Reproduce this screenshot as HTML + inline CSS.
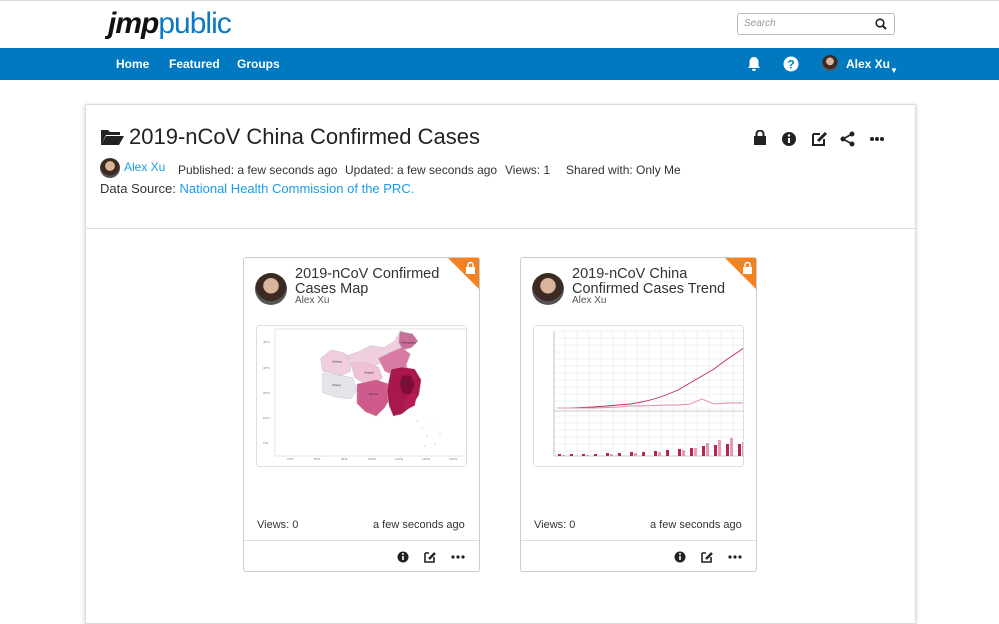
<!DOCTYPE html>
<html><head><meta charset="utf-8"><style>
*{box-sizing:border-box;margin:0;padding:0}
body{width:999px;height:616px;overflow:hidden;background:#fff;font-family:"Liberation Sans",Arial,sans-serif;position:relative;color:#333}
.a{position:absolute}
.nav{left:0;top:48px;width:999px;height:32px;background:#0079c1}
.nav span{position:absolute;top:9px;color:#fff;font-size:12px;font-weight:bold}
.panel{left:85px;top:104px;width:831px;height:520px;border:1px solid #ddd;box-shadow:0 1px 4px rgba(0,0,0,.2);background:#fff}
.card{width:237px;height:315px;border:1px solid #ccc;border-radius:3px;background:#fff}
.av{width:32px;height:32px;border-radius:50%;background:radial-gradient(circle at 50% 40%,#d9b49a 0 30%,#3a2a22 32% 60%,#555 62%)}
.ttl{font-size:14.5px;line-height:15px;color:#333}
.sub{font-size:10px;color:#555}
.frame{border:1px solid #ddd;border-radius:3px;background:#fff;overflow:hidden}
.foot{font-size:11px;color:#333}
.m{font-size:12px;color:#333}
</style></head><body>
<div class="a" style="left:0;top:0;width:999px;height:1px;background:#ddd"></div>
<div class="a" style="left:108px;top:7px;font-size:30px;letter-spacing:-1px"><span style="font-style:italic;font-weight:bold;color:#111">jmp</span><span style="color:#0a79c8">public</span></div>
<div class="a" style="left:737px;top:13px;width:158px;height:22px;border:1px solid #bbb;border-radius:3px;font-size:10px;font-style:italic;color:#999;padding:4px 6px">Search<svg class="a" style="right:7px;top:4px" width="12" height="12"><circle cx="5" cy="5" r="3.8" stroke="#222" stroke-width="1.6" fill="none"/><path d="M8 8l3 3" stroke="#222" stroke-width="2"/></svg></div>
<div class="a nav">
<span style="left:116px">Home</span><span style="left:169px">Featured</span><span style="left:237px">Groups</span>
<svg class="a" style="left:746px;top:8px" width="16" height="16" viewBox="0 0 16 16"><path d="M8 1c-3 0-4.5 2.5-4.5 5v4L2 12h12l-1.5-2V6C12.5 3.5 11 1 8 1z M6 13a2 2 0 0 0 4 0z" fill="#fff"/></svg>
<svg class="a" style="left:783px;top:8px" width="16" height="16"><circle cx="8" cy="8" r="7.5" fill="#fff"/><text x="8" y="12.5" text-anchor="middle" font-size="12" font-weight="bold" fill="#0079c1" font-family="Liberation Sans">?</text></svg>
<div class="a av" style="left:822px;top:7px;width:16px;height:16px"></div>
<span style="left:846px">Alex Xu <span style="font-size:8px">▼</span></span>
</div>
<div class="a panel"></div>
<svg class="a" style="left:100px;top:128px" width="25" height="18"><path d="M1 2h7l2 2h10v3H6L1 17z" fill="#222"/><path d="M6 8h18l-5 9H1z" fill="#222"/></svg>
<div class="a" style="left:129px;top:124px;font-size:22px;color:#222">2019-nCoV China Confirmed Cases</div>
<svg class="a" style="left:753px;top:130px" width="140" height="18">
<rect x="1" y="6" width="12" height="9" fill="#222"/><path d="M3.5 6V4a3.5 3.5 0 0 1 7 0v2" stroke="#222" stroke-width="2" fill="none"/>
<circle cx="36" cy="9" r="7" fill="#222"/><rect x="35" y="8" width="2" height="5" fill="#fff"/><circle cx="36" cy="5.5" r="1.2" fill="#fff"/>
<path d="M60 4h7M60 4v11h11v-6" stroke="#222" stroke-width="2" fill="none"/><path d="M65 11l8-8" stroke="#222" stroke-width="3"/>
<circle cx="90" cy="9" r="2.5" fill="#222"/><circle cx="99" cy="4" r="2.5" fill="#222"/><circle cx="99" cy="14" r="2.5" fill="#222"/><path d="M90 9l9-5M90 9l9 5" stroke="#222" stroke-width="1.6"/>
<circle cx="119" cy="9" r="2" fill="#222"/><circle cx="124" cy="9" r="2" fill="#222"/><circle cx="129" cy="9" r="2" fill="#222"/>
</svg>
<div class="a av" style="left:100px;top:158px;width:20px;height:20px"></div>
<div class="a" style="left:124px;top:160px;font-size:12px;color:#1a9be8">Alex Xu</div>
<div class="a m" style="left:178px;top:163px">Published: a few seconds ago</div>
<div class="a m" style="left:345px;top:163px">Updated: a few seconds ago</div>
<div class="a m" style="left:505px;top:163px">Views: 1</div>
<div class="a m" style="left:566px;top:163px">Shared with: Only Me</div>
<div class="a" style="left:100px;top:181px;font-size:13px;color:#333">Data Source: <span style="color:#1a9be8">National Health Commission of the PRC.</span></div>
<div class="a" style="left:86px;top:228px;width:829px;height:1px;background:#ddd"></div>

<!-- card 1 -->
<div class="a card" style="left:243px;top:257px"></div>
<svg class="a" style="left:448px;top:258px" width="31" height="31"><path d="M0 0h31v31z" fill="#f58220"/><rect x="18" y="9" width="9" height="7" fill="#fff"/><path d="M20 9V7a2.5 2.5 0 0 1 5 0v2" stroke="#fff" stroke-width="1.5" fill="none"/></svg>
<div class="a av" style="left:255px;top:273px"></div>
<div class="a ttl" style="left:295px;top:267px">2019-nCoV Confirmed<br>Cases Map</div>
<div class="a sub" style="left:295px;top:295px">Alex Xu</div>
<div class="a frame" style="left:256px;top:325px;width:211px;height:142px">
<svg width="211" height="142" style="font-family:Liberation Sans">
<rect x="18" y="3" width="193" height="127" fill="#fff" stroke="#ccc" stroke-width=".5"/>
<g font-size="3" fill="#777"><text x="6" y="17">40°N</text><text x="6" y="43">30°N</text><text x="6" y="68">20°N</text><text x="6" y="93">10°N</text><text x="6" y="118">0°N</text>
<text x="30" y="134">70°E</text><text x="57" y="134">80°E</text><text x="84" y="134">90°E</text><text x="111" y="134">100°E</text><text x="138" y="134">110°E</text><text x="165" y="134">120°E</text><text x="192" y="134">130°E</text></g>
<g transform="translate(-6,-4) scale(1.07)">
<path d="M65 34l10-8 12 3 6 5 0 12-8 4-18-4z" fill="#f1cde0" stroke="#bbb" stroke-width=".4"/>
<path d="M88 32l12-4 12-6 12 2 10-6 6-10 10 4-4 10-8 4-6 8-10 4-10 4-12-2z" fill="#f1cde0" stroke="#bbb" stroke-width=".4"/>
<path d="M139 9l12 2 5 7-6 6-8 2-4-7z" fill="#c8709a" stroke="#bbb" stroke-width=".4"/>
<path d="M67 48l16 2 12 2 4 12-6 8-14-2-12-4z" fill="#e3e5ea" stroke="#bbb" stroke-width=".4"/>
<path d="M93 38l14 0 12 4 4 10-6 6-10 0-10-6z" fill="#efc0d6" stroke="#bbb" stroke-width=".4"/>
<path d="M119 34l12-6 10-4 8 6-4 10 4 10-10 2-14-6z" fill="#d87aa4" stroke="#bbb" stroke-width=".4"/>
<path d="M99 58l18-4 12 4 2 12-6 10-8 8-10-4-8-8z" fill="#cf5b8c" stroke="#bbb" stroke-width=".4"/>
<path d="M131 44l10-2 12 2 6 10-2 14-6 10-10 8-8 2-4-10-2-14z" fill="#a8184f" stroke="#bbb" stroke-width=".4"/>
<path d="M141 50l8 0 4 8-4 10-8-2-2-8z" fill="#7d0d35"/>
<path d="M149 66l6 2-2 10-8 4-4-4z" fill="#b51e55"/>
<g font-size="2.5" fill="#333"><text x="76" y="38">Xinjiang</text><text x="76" y="60">Xizang</text><text x="106" y="48">Qinghai</text><text x="110" y="68">Sichuan</text><text x="140" y="58">Hubei</text><text x="140" y="20">Heilongjiang</text></g>
</g>
<g fill="#bbb"><circle cx="160" cy="95" r=".6"/><circle cx="165" cy="102" r=".6"/><circle cx="170" cy="110" r=".6"/><circle cx="178" cy="118" r=".6"/><circle cx="168" cy="120" r=".6"/><circle cx="183" cy="107" r=".6"/><circle cx="175" cy="98" r=".6"/></g>
</svg></div>
<div class="a foot" style="left:257px;top:519px">Views: 0</div>
<div class="a foot" style="left:373px;top:519px">a few seconds ago</div>
<div class="a" style="left:244px;top:540px;width:235px;height:1px;background:#ddd"></div>
<svg class="a" style="left:396px;top:550px" width="70" height="14">
<circle cx="7" cy="7" r="5.5" fill="#222"/><rect x="6.2" y="6" width="1.6" height="4" fill="#fff"/><circle cx="7" cy="4" r="1" fill="#fff"/>
<path d="M29 3h4M29 3v9h9v-5" stroke="#222" stroke-width="1.6" fill="none"/><path d="M33 9l6-6" stroke="#222" stroke-width="2.4"/>
<circle cx="57" cy="7" r="1.6" fill="#222"/><circle cx="62" cy="7" r="1.6" fill="#222"/><circle cx="67" cy="7" r="1.6" fill="#222"/></svg>

<!-- card 2 -->
<div class="a card" style="left:520px;top:257px"></div>
<svg class="a" style="left:725px;top:258px" width="31" height="31"><path d="M0 0h31v31z" fill="#f58220"/><rect x="18" y="9" width="9" height="7" fill="#fff"/><path d="M20 9V7a2.5 2.5 0 0 1 5 0v2" stroke="#fff" stroke-width="1.5" fill="none"/></svg>
<div class="a av" style="left:532px;top:273px"></div>
<div class="a ttl" style="left:572px;top:267px">2019-nCoV China<br>Confirmed Cases Trend</div>
<div class="a sub" style="left:572px;top:295px">Alex Xu</div>
<div class="a frame" style="left:533px;top:325px;width:211px;height:142px">
<svg width="211" height="142">
<g stroke="#e6e6e6" stroke-width=".5">
<path d="M20 5h191M20 12h191M20 19h191M20 26h191M20 33h191M20 40h191M20 47h191M20 54h191M20 61h191M20 68h191M20 75h191M20 82h191M20 90h191M20 97h191M20 104h191M20 111h191M20 118h191M20 125h191"/>
<path d="M31 5v125M43 5v125M55 5v125M67 5v125M79 5v125M91 5v125M103 5v125M115 5v125M127 5v125M139 5v125M151 5v125M163 5v125M175 5v125M187 5v125M199 5v125"/>
</g>
<path d="M20 5v125M20 85h191M20 130h191" stroke="#999" stroke-width=".6"/>
<polyline points="24,82 36,82 48,81.5 60,81 72,80 84,79 96,78 108,76 120,73 132,69 144,64 156,57 168,50 180,43 192,34 204,26 211,21" fill="none" stroke="#c0285a" stroke-width=".9"/>
<polyline points="24,82 36,82 48,82 60,82 72,81.5 84,81 96,80 108,80 120,79.5 132,79 144,79 156,78 168,73 180,78 192,77 204,77 211,77" fill="none" stroke="#e08aaa" stroke-width=".9"/>
<g fill="#b3245a">
<rect x="24" y="128" width="3" height="2"/><rect x="36" y="128" width="3" height="2"/><rect x="48" y="128" width="3" height="2"/><rect x="60" y="128" width="3" height="2"/><rect x="72" y="127" width="3" height="3"/><rect x="84" y="127" width="3" height="3"/><rect x="96" y="126" width="3" height="4"/><rect x="108" y="126" width="3" height="4"/><rect x="120" y="125" width="3" height="5"/><rect x="132" y="124" width="3" height="6"/><rect x="144" y="123" width="3" height="7"/><rect x="156" y="122" width="3" height="8"/><rect x="168" y="120" width="3" height="10"/><rect x="180" y="119" width="3" height="11"/><rect x="192" y="118" width="3" height="12"/><rect x="204" y="118" width="3" height="12"/></g>
<g fill="#e59ab6">
<rect x="28" y="129" width="3" height="1"/><rect x="52" y="129" width="3" height="1"/><rect x="76" y="128" width="3" height="2"/><rect x="100" y="127" width="3" height="3"/><rect x="124" y="126" width="3" height="4"/><rect x="148" y="124" width="3" height="6"/><rect x="160" y="122" width="3" height="8"/><rect x="172" y="117" width="3" height="13"/><rect x="184" y="114" width="3" height="16"/><rect x="196" y="112" width="3" height="18"/><rect x="208" y="116" width="3" height="14"/></g>
</svg></div>
<div class="a foot" style="left:534px;top:519px">Views: 0</div>
<div class="a foot" style="left:650px;top:519px">a few seconds ago</div>
<div class="a" style="left:521px;top:540px;width:235px;height:1px;background:#ddd"></div>
<svg class="a" style="left:673px;top:550px" width="70" height="14">
<circle cx="7" cy="7" r="5.5" fill="#222"/><rect x="6.2" y="6" width="1.6" height="4" fill="#fff"/><circle cx="7" cy="4" r="1" fill="#fff"/>
<path d="M29 3h4M29 3v9h9v-5" stroke="#222" stroke-width="1.6" fill="none"/><path d="M33 9l6-6" stroke="#222" stroke-width="2.4"/>
<circle cx="57" cy="7" r="1.6" fill="#222"/><circle cx="62" cy="7" r="1.6" fill="#222"/><circle cx="67" cy="7" r="1.6" fill="#222"/></svg>
</body></html>
